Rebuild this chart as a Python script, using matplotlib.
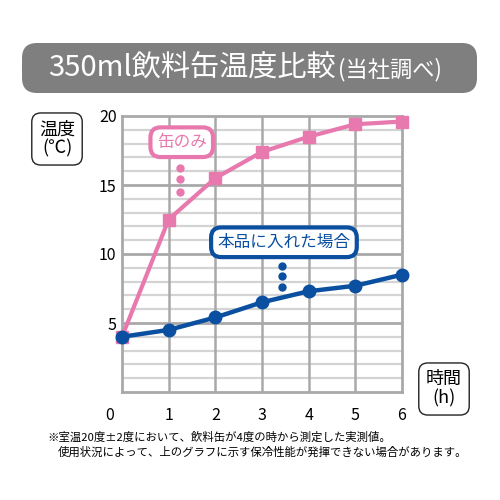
import matplotlib
matplotlib.use("Agg")
import matplotlib.pyplot as plt
import matplotlib.transforms as mtransforms
from matplotlib.patches import FancyBboxPatch

plt.rcParams['font.family'] = ['Noto Sans CJK JP', 'DejaVu Sans']

# データ
hours = [0, 1, 2, 3, 4, 5, 6]
can_only = [4.0, 12.5, 15.5, 17.4, 18.5, 19.4, 19.6]
with_holder = [4.0, 4.5, 5.4, 6.5, 7.3, 7.7, 8.5]
yticks = [5, 10, 15, 20]

title_main = "350ml飲料缶温度比較"
title_sub = "(当社調べ)"
label_can = "缶のみ"
label_holder = "本品に入れた場合"
note1 = "※室温20度±2度において、飲料缶が4度の時から測定した実測値。"
note2 = "使用状況によって、上のグラフに示す保冷性能が発揮できない場合があります。"

pink = "#e879ae"
blue = "#0b4fa0"
grid_dark = "#a9a9a9"
grid_light = "#d4d4d4"

fig = plt.figure(figsize=(5, 5), dpi=100)
ax = fig.add_axes([0.244, 0.216, 0.560, 0.552])

# タイトル
box = FancyBboxPatch((0.044, 0.814), 0.910, 0.100,
                     boxstyle="round,pad=0,rounding_size=0.03",
                     transform=fig.transFigure, facecolor="#7f7f7f",
                     edgecolor="none")
fig.patches.append(box)
fig.text(0.096, 0.863, title_main, color="white", fontsize=21,
         ha="left", va="center")
fig.text(0.676, 0.860, title_sub, color="white", fontsize=16,
         ha="left", va="center")

# グリッド
ax.set_xlim(0, 6)
ax.set_ylim(0, 20)
for y in range(1, 20):
    if y % 5 == 0:
        continue
    ax.axhline(y, color=grid_light, lw=1.6, zorder=1)
for y in [5, 10, 15]:
    ax.axhline(y, color=grid_dark, lw=2.0, zorder=1)
for x in hours[1:-1]:
    ax.axvline(x, color=grid_dark, lw=1.8, zorder=1)
for s in ax.spines.values():
    s.set_color(grid_dark)
    s.set_linewidth(2.0)

# 線
ax.plot(hours, can_only, color=pink, lw=3, marker="s", markersize=8,
        clip_on=False, zorder=3)
ax.plot(hours, with_holder, color=blue, lw=3.2, marker="o", markersize=9,
        clip_on=False, zorder=4)

ax.set_xticks(hours)
ax.set_yticks(yticks)
ax.tick_params(length=0, labelsize=11.5, pad=4)
ax.tick_params(axis="x", pad=11)
lab0 = ax.get_xticklabels()[0]
lab0.set_transform(lab0.get_transform() +
                   mtransforms.ScaledTranslation(-0.12, 0, fig.dpi_scale_trans))

# 吹き出し
ax.text(1.28, 18.1, label_can, color=pink, fontsize=12, ha="center",
        va="center", zorder=5,
        bbox=dict(boxstyle="round,pad=0.38,rounding_size=0.6", fc="white",
                  ec=pink, lw=3))
ax.plot([1.24, 1.24, 1.24], [16.2, 15.4, 14.5], "o", color=pink,
        markersize=5, zorder=5)
ax.text(3.47, 10.85, label_holder, color=blue, fontsize=12, ha="center",
        va="center", zorder=5,
        bbox=dict(boxstyle="round,pad=0.38,rounding_size=0.6", fc="white",
                  ec=blue, lw=3))
ax.plot([3.43, 3.43, 3.43], [9.15, 8.4, 7.6], "o", color=blue,
        markersize=5, zorder=5)

# 軸ラベル
fig.text(0.114, 0.722, "温度\n(℃)", fontsize=13, ha="center", va="center",
         linespacing=1.1,
         bbox=dict(boxstyle="round,pad=0.4,rounding_size=0.5", fc="white",
                   ec="#222222", lw=1))
fig.text(0.888, 0.222, "時間\n(h)", fontsize=13, ha="center", va="center",
         linespacing=1.1,
         bbox=dict(boxstyle="round,pad=0.4,rounding_size=0.5", fc="white",
                   ec="#222222", lw=1))

# 注記
fig.text(0.094, 0.126, note1, fontsize=8.2, ha="left", va="center")
fig.text(0.116, 0.096, note2, fontsize=8.2, ha="left", va="center")

fig.savefig("out.png", dpi=100)
